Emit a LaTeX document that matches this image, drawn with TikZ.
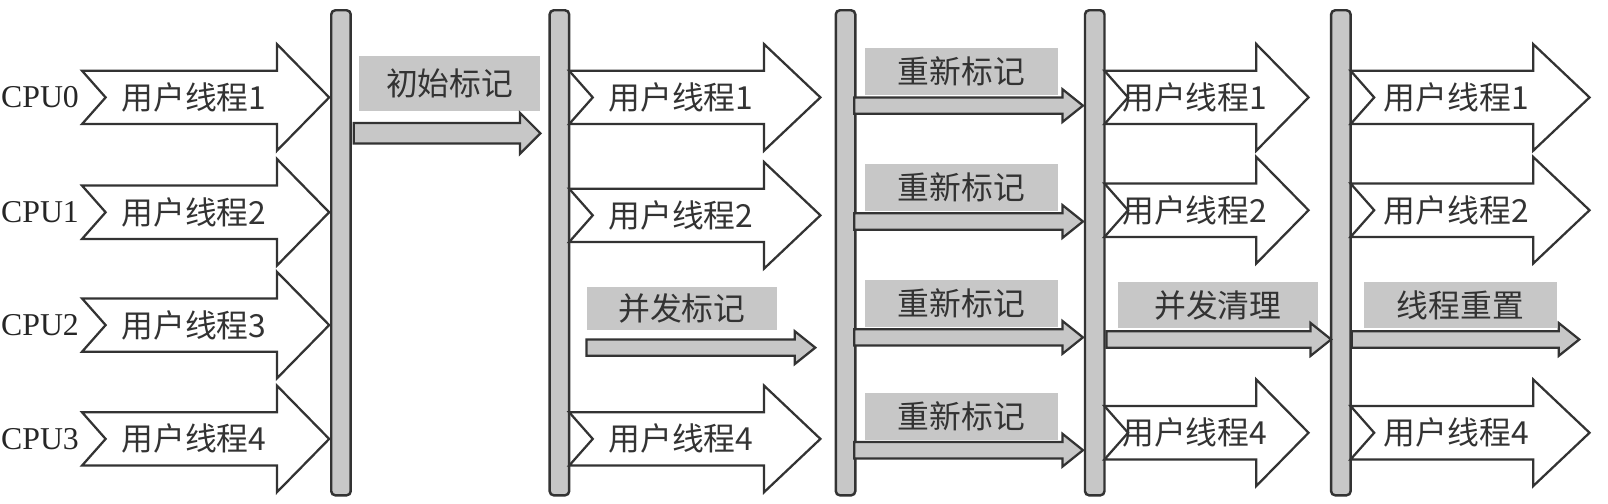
\documentclass[tikz,border=0pt]{standalone}
\usepackage{fontspec}
\setmainfont{Liberation Serif}
\newfontfamily\cjk{Noto Sans CJK SC}
\begin{document}
\begin{tikzpicture}[x=0.5pt,y=-0.5pt,
  bar/.style={draw=black!80,fill=black!22,line width=1.2pt,rounded corners=2pt},
  warr/.style={draw=black!80,fill=white,line width=1.1pt},
  garr/.style={draw=black!80,fill=black!22,line width=1.1pt},
  gbox/.style={fill=black!22,draw=none},
  lab/.style={font=\fontsize{15.5}{17}\selectfont\cjk,text=black!80,inner sep=0pt},
  cpu/.style={font=\fontsize{15.5}{17}\selectfont,text=black!85,inner sep=0pt}]
\useasboundingbox (0,0) rectangle (1568,491);
% white arrow: name, x0, headstart, tip, yc, text
\newcommand\wa[6]{%
  \draw[warr] (#2,#5-26) -- (#3,#5-26) -- (#3,#5-52) -- (#4,#5) -- (#3,#5+52) -- (#3,#5+26) -- (#2,#5+26) -- (#2+23,#5) -- cycle;
  \node[lab] (#1) at ({(#2+#3)/2+14},#5) {#6};}
% gray arrow: x0, tip, yc, halfbody
\newcommand\ga[4]{%
  \draw[garr] (#1,#3-#4) -- (#2-20,#3-#4) -- (#2-20,#3-2*#4) -- (#2,#3) -- (#2-20,#3+2*#4) -- (#2-20,#3+#4) -- (#1,#3+#4) -- cycle;}
% gray label box: name, x0, x1, y0, y1, text
\newcommand\gb[6]{%
  \fill[gbox] (#2,#4) rectangle (#3,#5);
  \node[lab] (#1) at ({(#2+#3)/2},{(#4+#5)/2}) {#6};}
% bars
\foreach \x/\n in {323/b1,536/b2,815/b3,1058/b4,1298/b5}
  \draw[bar] (\x,10) rectangle (\x+19,483) coordinate (\n);
% column 1
\foreach \i/\y in {0/95,1/207,2/317,3/428}{
  \pgfmathtruncatemacro\k{\i+1}
  \node[cpu] (cpu\i) at (39,\y) {CPU\i};
  \wa{u1\i}{80}{270}{321}{\y}{用户线程\k}
}
\gb{l1}{350}{527}{55}{108}{初始标记}
\ga{345}{527}{130}{10}
% column 2
\wa{u20}{555}{745}{800}{95}{用户线程1}
\wa{u21}{555}{745}{800}{210}{用户线程2}
\wa{u23}{555}{745}{800}{428}{用户线程4}
\gb{l2}{572}{758}{280}{322}{并发标记}
\ga{572}{795}{339}{8}
% column 3
\foreach \i/\a in {0/47,1/160,2/273,3/383}{
  \gb{l3\i}{843}{1032}{\a}{\a+46}{重新标记}
  \ga{833}{1056}{\a+56}{8}
}
% column 4
\wa{u40}{1077}{1225}{1276}{95}{用户线程1}
\wa{u41}{1077}{1225}{1276}{205}{用户线程2}
\wa{u43}{1077}{1225}{1276}{422}{用户线程4}
\gb{l4}{1090}{1285}{275}{320}{并发清理}
\ga{1079}{1298}{331}{8}
% column 5
\wa{u50}{1317}{1495}{1550}{95}{用户线程1}
\wa{u51}{1317}{1495}{1550}{205}{用户线程2}
\wa{u53}{1317}{1495}{1550}{422}{用户线程4}
\gb{l5}{1330}{1518}{275}{320}{线程重置}
\ga{1318}{1540}{331}{8}
\end{tikzpicture}
\end{document}
